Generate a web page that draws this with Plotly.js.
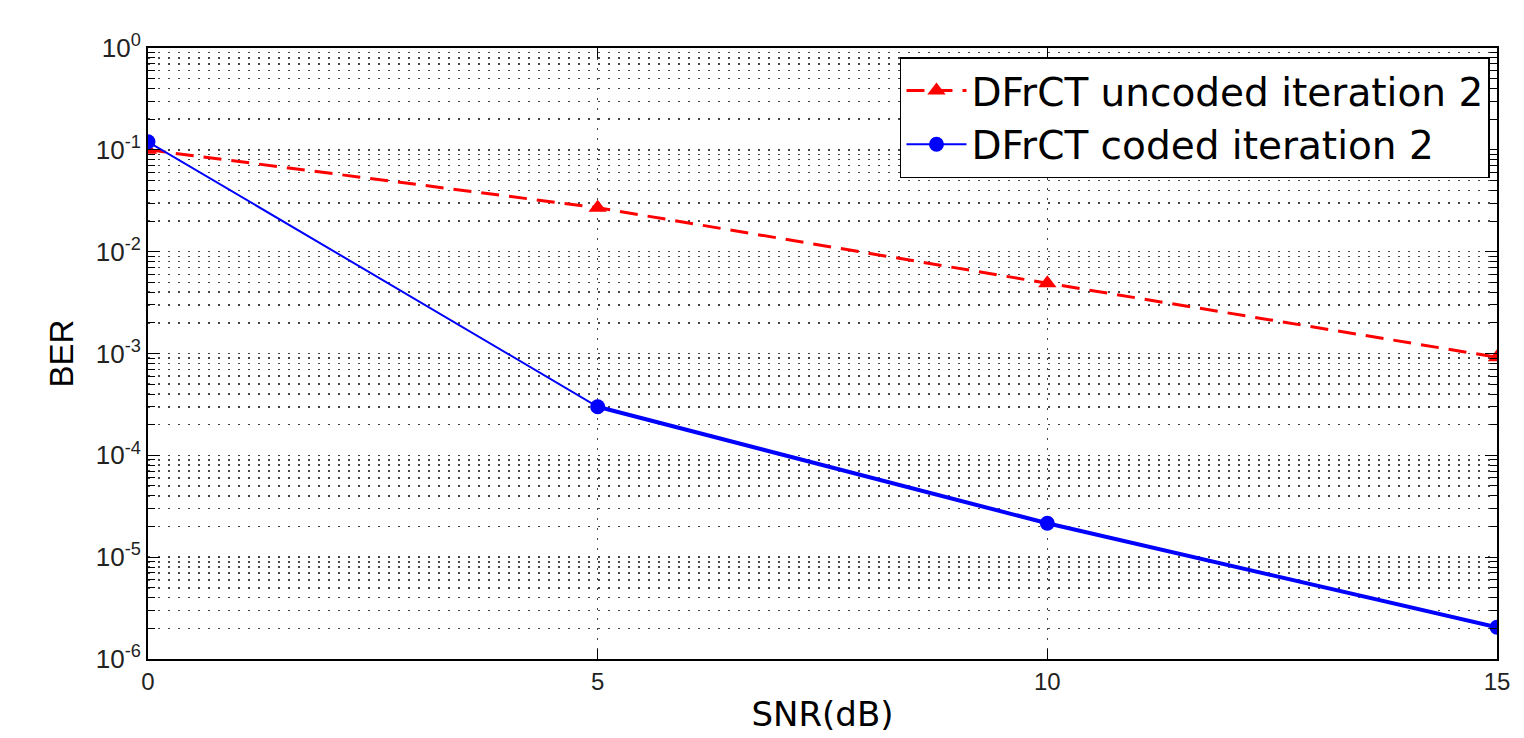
<!DOCTYPE html>
<html>
<head>
<meta charset="utf-8">
<script src="https://cdn.plot.ly/plotly-3.0.1.min.js"></script>
<style>html,body{margin:0;padding:0;background:#fff;}#chart{width:1524px;height:738px;}</style>
</head>
<body>
<div id="chart"></div>
<script>
const snr = [0, 5, 10, 15];
const berUncoded = [0.1, 0.027, 0.0049, 0.00092];
const berCoded = [0.12, 0.00030, 0.0000215, 0.00000205];
const yTickVals = [1, 0.1, 0.01, 0.001, 0.0001, 0.00001, 0.000001];
const yTickText = ['10<sup>0</sup>', '10<sup>-1</sup>', '10<sup>-2</sup>', '10<sup>-3</sup>', '10<sup>-4</sup>', '10<sup>-5</sup>', '10<sup>-6</sup>'];
const xTickVals = [0, 5, 10, 15];
const names = ['DFrCT uncoded iteration 2', 'DFrCT coded iteration 2'];

const gridDash = '2px,8px';
const gridColor = '#444';

const traces = [
  {
    x: snr, y: berUncoded, name: names[0], type: 'scatter', mode: 'lines+markers',
    line: {color: '#ff0000', width: 3, dash: '18px,10px'},
    marker: {symbol: 'triangle-up', size: 16, color: '#ff0000'}
  },
  {
    x: snr, y: berCoded, name: names[1], type: 'scatter', mode: 'lines+markers',
    line: {color: '#0000ff', width: 2},
    marker: {symbol: 'circle', size: 15, color: '#0000ff'}
  },
  {
    x: snr.slice(1), y: berCoded.slice(1), type: 'scatter', mode: 'lines',
    line: {color: '#0000ff', width: 4}, showlegend: false, hoverinfo: 'skip'
  }
];

const layout = {
  width: 1524, height: 738,
  paper_bgcolor: '#ffffff', plot_bgcolor: '#ffffff',
  margin: {l: 148, r: 27, t: 48, b: 79},
  font: {family: 'Liberation Sans, Arial, sans-serif', color: '#000'},
  showlegend: true,
  legend: {
    x: 0.9948, y: 0.985, xanchor: 'right', yanchor: 'top',
    bgcolor: '#ffffff', bordercolor: '#000', borderwidth: 1.5,
    font: {size: 39, color: '#000', family: 'DejaVu Sans, sans-serif'},
    tracegroupgap: 0, itemwidth: 60
  },
  xaxis: {
    range: [0, 15], tickvals: xTickVals, ticktext: xTickVals.map(String),
    ticks: 'inside', ticklen: 10, tickcolor: '#000', tickwidth: 1,
    showline: true, linecolor: '#000', linewidth: 2, mirror: 'allticks',
    showgrid: true, gridcolor: gridColor, griddash: gridDash, gridwidth: 1.5,
    zeroline: false,
    tickfont: {size: 24, color: '#222'},
    title: {text: 'SNR(dB)', font: {size: 34, color: '#000', family: 'DejaVu Sans, sans-serif'}, standoff: 8}
  },
  yaxis: {
    type: 'log', range: [-6, 0], tickvals: yTickVals, ticktext: yTickText,
    ticks: 'inside', ticklen: 12, tickcolor: '#000', tickwidth: 1,
    showline: true, linecolor: '#000', linewidth: 2, mirror: 'allticks',
    showgrid: true, gridcolor: gridColor, griddash: gridDash, gridwidth: 1.5,
    zeroline: false,
    tickfont: {size: 26, color: '#222'},
    minor: {dtick: 'D1', ticks: 'inside', ticklen: 7, tickcolor: '#000',
            showgrid: true, gridcolor: gridColor, griddash: gridDash, gridwidth: 1.5},
    title: {text: 'BER', font: {size: 33, color: '#000'}, standoff: 12}
  }
};

Plotly.newPlot('chart', traces, layout, {displayModeBar: false, staticPlot: true});
</script>
</body>
</html>
